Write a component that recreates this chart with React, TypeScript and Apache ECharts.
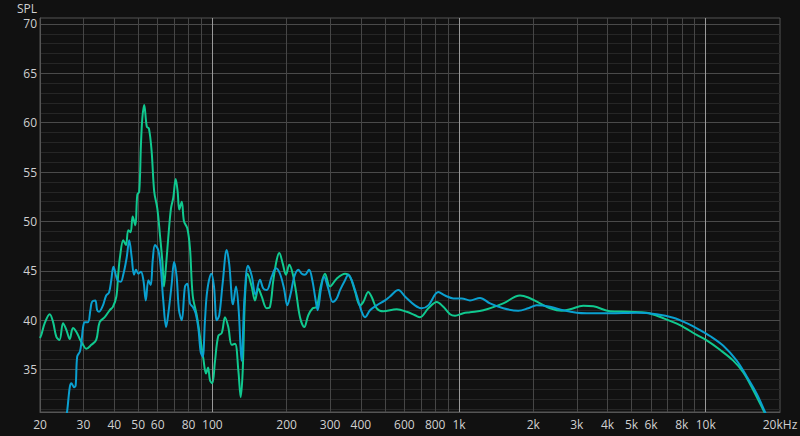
import React, { useEffect, useRef } from "react";
import * as echarts from "echarts";

// Frequency (Hz), SPL (dB)
const greenCurve: [number, number][] = [
  [20, 38.2], [20.24, 38.5], [20.9, 39.7], [21.9, 40.6], [22.6, 39.8], [23.3, 38.3], [24.0, 38.0],
  [24.8, 39.7], [25.6, 39.0], [26.4, 38.1], [27.2, 39.2], [28.1, 38.8], [29.0, 38.1], [29.9, 37.5],
  [30.8, 37.1], [32.3, 37.5], [33.8, 38.0], [34.9, 39.8], [36.6, 40.3], [38.3, 41.0], [39.5, 41.35],
  [40.8, 42.4], [41.5, 44.6], [42.2, 46.4], [43.5, 48.1], [44.6, 47.6], [45.6, 49.1], [46.6, 48.9],
  [47.5, 50.5], [48.7, 49.6], [49.6, 52.7], [50.5, 53.0], [51.3, 57.7], [52.0, 60.5], [52.9, 61.8],
  [54.2, 59.6], [55.3, 59.4], [56.7, 57.1], [58.1, 53.0], [59.8, 51.3], [61.3, 48.6], [62.7, 45.9],
  [63.6, 43.4], [64.4, 44.6], [66.2, 48.3], [67.9, 51.3], [69.4, 52.4], [71.0, 54.3], [72.3, 53.0],
  [73.4, 51.2], [75.1, 52.0], [76.7, 50.0], [79.1, 49.3], [81.1, 47.3], [83.2, 42.5], [86.4, 40.5],
  [89.1, 38.3], [91.9, 36.1], [94.2, 34.6], [96.0, 35.2], [97.8, 33.9], [99.9, 33.6], [102.4, 35.8],
  [105.6, 38.4], [109.1, 38.7], [112.5, 40.3], [116, 39.3], [119.7, 37.5], [123.5, 37.6], [127.4, 34.9],
  [130.2, 32.2], [132.7, 34.9], [135.6, 42.4], [139, 44.7], [144.3, 43.4], [148.8, 42.0], [153.5, 43.2],
  [158.4, 42.4], [166, 41.2], [171.2, 41.35], [176.6, 44.05], [182.2, 46.1], [186.7, 46.8], [192.7, 45.75],
  [198.7, 44.6], [205, 45.6], [211.6, 44.7], [218.2, 42.9], [226.5, 40.3], [235.8, 39.3], [244.7, 40.5],
  [255, 41.2], [264.7, 41.35], [274.8, 43.4], [286, 44.7], [299.7, 43.4], [319, 44.2], [344.9, 44.7],
  [361.3, 44.4], [378.5, 42.9], [396.6, 41.5], [409, 41.85], [428.5, 42.85], [442.3, 42.35], [463.4, 41.2],
  [492.8, 40.9], [558.6, 41.1], [613.3, 40.85], [662.5, 40.5], [694.2, 40.3], [750.4, 41.2], [811.7, 41.85],
  [863.2, 41.35], [918.9, 40.6], [962.8, 40.45], [1040, 40.7], [1107, 40.8], [1254, 41.0], [1511, 41.7],
  [1766, 42.5], [1908, 42.3], [2129, 41.7], [2337, 41.2], [2606, 40.95], [2816, 41.1], [3188, 41.45],
  [3501, 41.4], [4091, 40.9], [4931, 40.85], [5763, 40.75], [6728, 40.2], [7862, 39.5], [9191, 38.5],
  [10090, 37.95], [11420, 37.0], [12930, 35.9], [14200, 34.7], [15590, 32.9], [17110, 30.9], [20000, 27.5],
];

const blueCurve: [number, number][] = [
  [25.3, 29.5], [25.8, 30.9], [26.4, 33.2], [26.8, 33.6], [27.5, 33.2], [27.9, 33.4], [28.3, 36.3],
  [29.0, 36.8], [29.4, 37.6], [29.9, 39.3], [30.4, 39.8], [31.3, 39.8], [32.0, 41.0], [32.5, 41.85],
  [33.5, 42.0], [34.1, 41.0], [34.7, 40.85], [36.0, 41.5], [37.1, 42.5], [38.1, 42.8], [38.9, 44.05],
  [39.7, 45.4], [41.2, 44.05], [42.5, 43.9], [43.5, 44.6], [44.9, 46.3], [46.0, 48.1], [47.1, 46.3],
  [48.1, 44.6], [49.0, 45.1], [50.1, 44.7], [51.3, 44.9], [52.5, 44.05], [53.7, 42.0], [55.0, 44.05],
  [56.2, 43.55], [57.3, 46.1], [58.5, 47.6], [60.3, 47.1], [61.7, 45.4], [63.2, 42.0], [64.9, 39.3],
  [66.5, 41.0], [68.4, 43.7], [69.9, 45.9], [71.6, 44.4], [73.2, 41.0], [75.1, 40.0], [77.4, 43.4],
  [79.1, 43.7], [81.1, 41.7], [83.2, 41.35], [85.5, 40.7], [87.7, 39.2], [89.6, 36.8], [91.3, 36.3],
  [93.3, 40.0], [95.3, 43.0], [99.0, 44.7], [101.5, 43.4], [104.1, 40.0], [106.6, 40.5], [110.1, 43.8],
  [114.3, 47.1], [117.1, 45.6], [121.2, 41.6], [124.6, 43.4], [127.8, 41.0], [131.2, 35.9], [134.9, 42.2],
  [139.4, 45.5], [144.3, 44.5], [149.5, 42.6], [155.9, 44.1], [160.8, 43.2], [166, 43.05], [173.9, 44.4],
  [181, 45.25], [187.9, 44.7], [195.1, 43.2], [201.2, 41.5], [207.7, 42.7], [214.7, 44.4], [222.9, 45.1],
  [230.1, 44.7], [237.3, 44.6], [246.4, 45.1], [254.1, 44.05], [260.6, 42.4], [267.2, 41.0], [275.6, 43.2],
  [283.4, 44.4], [295, 43.2], [307.4, 41.85], [319, 42.2], [329.1, 43.05], [344.9, 44.05], [355.6, 44.6],
  [367, 44.05], [384.6, 42.5], [403, 40.85], [415.5, 40.3], [435.4, 41.0], [463.4, 41.5], [500.7, 42.0],
  [524.6, 42.4], [567, 43.05], [603.6, 42.4], [662.5, 41.5], [705.3, 41.2], [750.4, 41.5], [823.9, 42.85],
  [877, 42.5], [947.6, 42.2], [1025, 42.2], [1107, 42.0], [1216, 42.25], [1335, 41.7], [1511, 41.2],
  [1738, 40.95], [1908, 41.2], [2064, 41.5], [2337, 41.35], [2645, 41.0], [2999, 40.75], [3292, 40.7],
  [4091, 40.7], [5248, 40.75], [6324, 40.6], [7386, 40.25], [8370, 39.7], [9476, 39.0], [10400, 38.4],
  [11780, 37.4], [13350, 35.9], [14660, 34.3], [16090, 32.55], [17390, 30.7], [20000, 27.3],
];

const xTickLabels = [20, 30, 40, 50, 60, 80, 100, 200, 300, 400, 600, 800, 1000, 2000, 3000, 4000, 5000, 6000, 8000, 10000, 20000];
const xMinorGrid = [30, 40, 50, 60, 70, 80, 90, 200, 300, 400, 500, 600, 700, 800, 900, 2000, 3000, 4000, 5000, 6000, 7000, 8000, 9000];
const xMajorGrid = [100, 1000, 10000];
const yTickLabels = [35, 40, 45, 50, 55, 60, 65, 70];
const yMinorGrid = [31, 32, 33, 34, 36, 37, 38, 39, 41, 42, 43, 44, 46, 47, 48, 49, 51, 52, 53, 54, 56, 57, 58, 59, 61, 62, 63, 64, 66, 67, 68, 69];

const X_MIN = 20;
const X_MAX = 20000;
const Y_MIN = 30.7;
const Y_MAX = 70.6;

function fmtFreq(v: number): string {
  if (v >= 20000) return "20kHz";
  if (v >= 1000) return `${Math.round(v / 1000)}k`;
  return `${Math.round(v)}`;
}

export default function App() {
  const ref = useRef<HTMLDivElement>(null);
  useEffect(() => {
    if (!ref.current) return;
    const chart = echarts.init(ref.current, undefined, { renderer: "svg" });
    const labelColor = "#d0d0d0";
    const font = "'Open Sans', 'Noto Sans', sans-serif";
    chart.setOption({
      animation: false,
      backgroundColor: "#111111",
      textStyle: { fontFamily: font },
      grid: {
        left: 40,
        right: 20,
        top: 18,
        bottom: 24,
        show: true,
        borderColor: "#555555",
        borderWidth: 1,
        backgroundColor: "#111111",
        outerBoundsMode: "none",
      },
      xAxis: [
        {
          type: "log",
          logBase: 10,
          min: X_MIN,
          max: X_MAX,
          axisLine: { show: true, lineStyle: { color: "#555555", width: 1 } },
          axisTick: { show: false, customValues: xMinorGrid },
          axisLabel: {
            customValues: xTickLabels,
            formatter: (v: number) => fmtFreq(v),
            color: labelColor,
            fontSize: 12,
            fontFamily: font,
            margin: 6,
            hideOverlap: false,
          },
          splitLine: { show: true, lineStyle: { color: "#464646", width: 1 } },
        },
        {
          type: "log",
          logBase: 10,
          min: X_MIN,
          max: X_MAX,
          position: "bottom",
          axisLine: { show: false },
          axisTick: { show: false, customValues: xMajorGrid },
          axisLabel: { show: false },
          splitLine: { show: true, lineStyle: { color: "#9a9a9a", width: 1 } },
        },
      ],
      yAxis: [
        {
          type: "value",
          min: Y_MIN,
          max: Y_MAX,
          name: "SPL",
          nameLocation: "end",
          nameGap: 10,
          nameTextStyle: {
            color: labelColor,
            fontSize: 12,
            fontFamily: font,
            align: "right",
            verticalAlign: "middle",
            padding: [0, 3, 0, 0],
          },
          axisLine: { show: true, lineStyle: { color: "#555555", width: 1 } },
          axisTick: { show: false, customValues: yMinorGrid },
          axisLabel: {
            customValues: yTickLabels,
            color: labelColor,
            fontSize: 12,
            fontFamily: font,
            margin: 3,
          },
          splitLine: { show: true, lineStyle: { color: "#262626", width: 1 } },
        },
        {
          type: "value",
          min: Y_MIN,
          max: Y_MAX,
          position: "left",
          axisLine: { show: false },
          axisTick: { show: false, customValues: yTickLabels },
          axisLabel: { show: false },
          splitLine: { show: true, lineStyle: { color: "#4a4a4a", width: 1 } },
        },
      ],
      series: [
        {
          type: "line",
          name: "green",
          xAxisIndex: 0,
          yAxisIndex: 0,
          data: greenCurve,
          showSymbol: false,
          smooth: 0.35,
          clip: true,
          lineStyle: { color: "#10c98f", width: 2 },
          itemStyle: { color: "#10c98f" },
        },
        {
          type: "line",
          name: "blue",
          xAxisIndex: 0,
          yAxisIndex: 0,
          data: blueCurve,
          showSymbol: false,
          smooth: 0.35,
          clip: true,
          lineStyle: { color: "#0aa0d0", width: 2 },
          itemStyle: { color: "#0aa0d0" },
        },
      ],
    });
    return () => chart.dispose();
  }, []);
  return (
    <div
      ref={ref}
      style={{ position: "fixed", left: 0, top: 0, width: 800, height: 436 }}
    />
  );
}
